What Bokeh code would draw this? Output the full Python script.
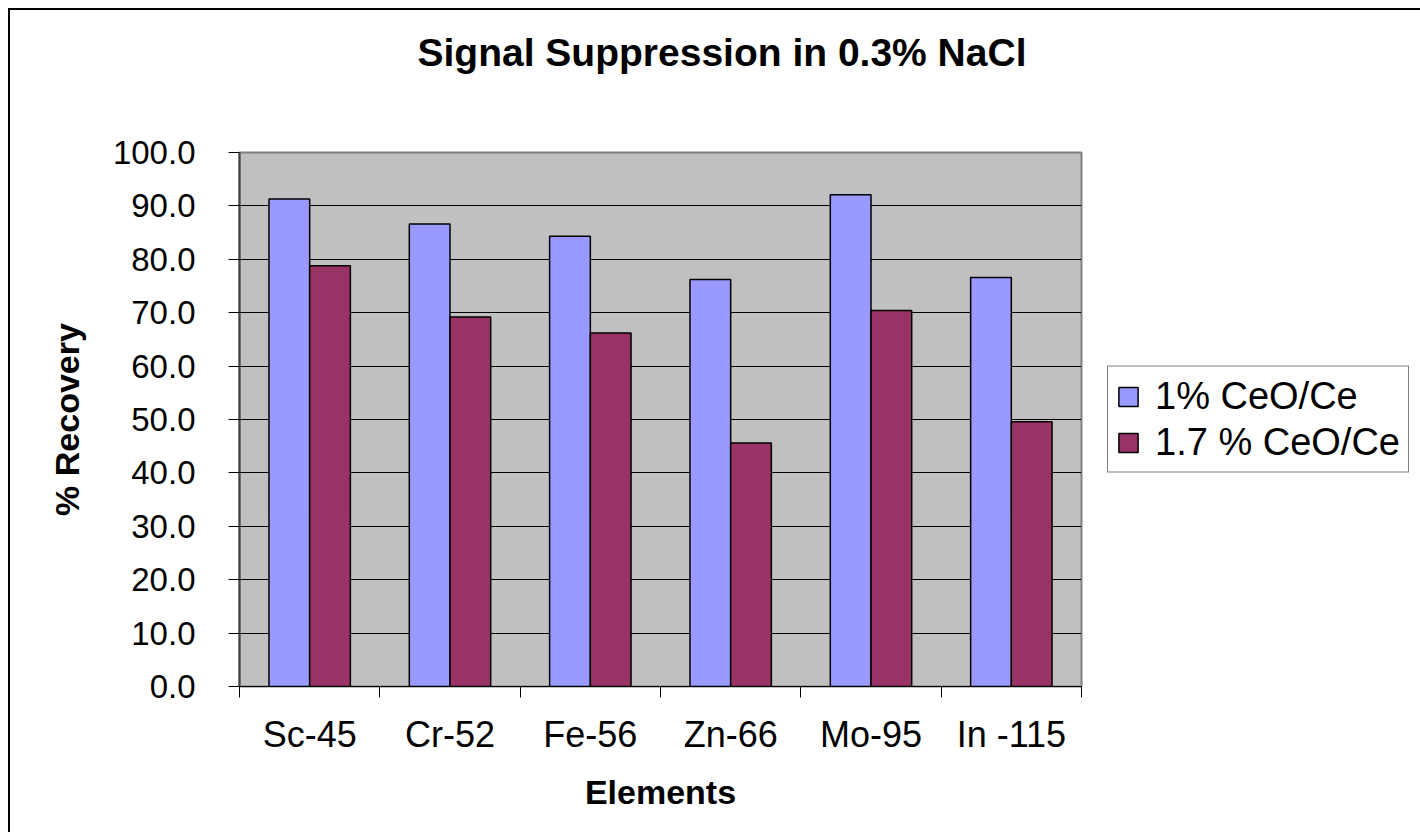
import numpy as np
from bokeh.plotting import figure
from bokeh.models import (Range1d, FixedTicker, NumeralTickFormatter, Legend, LegendItem,
                          ColumnDataSource, Title)
from bokeh.embed import file_html
from bokeh.resources import INLINE

# ---- data ----
categories = ["Sc-45", "Cr-52", "Fe-56", "Zn-66", "Mo-95", "In -115"]
series_names = ["1% CeO/Ce", "1.7 % CeO/Ce"]
ceo_1pct = [91.3, 86.6, 84.3, 76.2, 92.1, 76.6]
ceo_17pct = [78.8, 69.2, 66.2, 45.6, 70.4, 49.6]
y_ticks = [0, 10, 20, 30, 40, 50, 60, 70, 80, 90, 100]
title_text = "Signal Suppression in 0.3% NaCl"

FONT = "Liberation Sans"
BLUE = "#9999FF"
RED = "#993366"

n = len(categories)
idx = np.arange(n)
bar_w = 0.29
src = ColumnDataSource(dict(
    xa=idx + 0.5 - bar_w / 2, xb=idx + 0.5 + bar_w / 2,
    a=ceo_1pct, b=ceo_17pct, cat=categories))

FW, FH = 842, 534
p = figure(frame_width=FW, frame_height=FH,
           x_range=Range1d(0, n), y_range=Range1d(0, 100),
           output_backend="svg", toolbar_location=None,
           min_border_left=229, min_border_right=337,
           min_border_top=142, min_border_bottom=146,
           background_fill_color="#C0C0C0", border_fill_color="white",
           outline_line_color="#808080", outline_line_width=2)
p.styles = {"margin-left": "8px", "margin-top": "8px",
            "border-left": "2px solid black", "border-top": "2px solid black"}

r1 = p.vbar(x="xa", top="a", width=bar_w, source=src, fill_color=BLUE,
            line_color="black", line_width=1.5)
r2 = p.vbar(x="xb", top="b", width=bar_w, source=src, fill_color=RED,
            line_color="black", line_width=1.5)

# spacer between frame and title, then the title itself
spacer = Title(text=" ", text_font=FONT, text_font_size="38px", standoff=35)
p.add_layout(spacer, "above")
t = Title(text=title_text, text_font=FONT, text_font_size="39px",
          text_font_style="bold", align="left", offset=178, standoff=0,
          text_color="black")
p.add_layout(t, "above")

# y axis
p.yaxis.ticker = FixedTicker(ticks=y_ticks)
p.yaxis.formatter = NumeralTickFormatter(format="0.0")
p.yaxis.major_label_text_font = FONT
p.yaxis.major_label_text_font_size = "33px"
p.yaxis.major_label_text_color = "black"
p.yaxis.major_tick_out = 11
p.yaxis.major_tick_in = 0
p.yaxis.major_tick_line_color = "black"
p.yaxis.minor_tick_line_color = None
p.yaxis.axis_line_color = "#404040"
p.yaxis.axis_line_width = 2
p.yaxis.major_label_standoff = 33
p.yaxis.axis_label = "% Recovery"
p.yaxis.axis_label_text_font = FONT
p.yaxis.axis_label_text_font_size = "34px"
p.yaxis.axis_label_text_font_style = "bold"
p.yaxis.axis_label_text_color = "black"
p.yaxis.axis_label_standoff = 24

# x axis: labels at category centres, tick marks at boundaries
centres = [float(i) + 0.5 for i in idx]
p.xaxis.ticker = FixedTicker(ticks=centres, minor_ticks=[float(i) for i in range(n + 1)])
p.xaxis.major_label_overrides = {c: lab for c, lab in zip(centres, categories)}
p.xaxis.major_tick_line_color = None
p.xaxis.major_tick_out = 0
p.xaxis.major_tick_in = 0
p.xaxis.minor_tick_line_color = "black"
p.xaxis.minor_tick_out = 11
p.xaxis.minor_tick_in = 0
p.xaxis.axis_line_color = "black"
p.xaxis.major_label_text_font = FONT
p.xaxis.major_label_text_font_size = "36px"
p.xaxis.major_label_text_color = "black"
p.xaxis.major_label_standoff = 16
p.xaxis.axis_label = "Elements"
p.xaxis.axis_label_text_font = FONT
p.xaxis.axis_label_text_font_size = "34px"
p.xaxis.axis_label_text_font_style = "bold"
p.xaxis.axis_label_text_color = "black"
p.xaxis.axis_label_standoff = 15

p.xgrid.grid_line_color = None
p.ygrid.grid_line_color = "black"
p.ygrid.grid_line_width = 1

legend = Legend(items=[LegendItem(label=series_names[0], renderers=[r1]),
                       LegendItem(label=series_names[1], renderers=[r2])],
                location="center_left", margin=26, padding=8, spacing=3,
                glyph_width=24, glyph_height=24, label_standoff=15,
                label_text_font=FONT, label_text_font_size="38px",
                label_text_color="black", label_height=30,
                border_line_color="black", border_line_width=1,
                background_fill_color="white")
p.add_layout(legend, "right")

open("out.html", "w").write(file_html(p, INLINE))
